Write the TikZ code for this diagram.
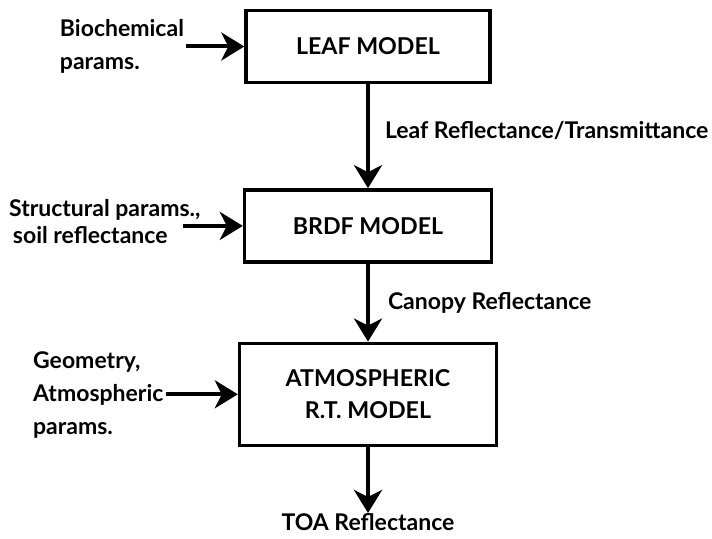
\documentclass[tikz,border=0pt]{standalone}
\usepackage{fontspec}
\setmainfont{Lato}
\usetikzlibrary{arrows.meta, positioning}

\begin{document}
\begin{tikzpicture}[
            x=0.5pt, y=-0.5pt,
            node distance=52pt and 30pt,
            model/.style ={rectangle, draw=black, line width=1.7pt,
                           minimum width=122pt, minimum height=36pt, align=center,
                           font=\fontsize{11.6}{16}\selectfont\bfseries},
            input/.style ={align=left, inner sep=0pt, font=\fontsize{11.5}{16.5}\selectfont\bfseries},
            label/.style ={inner sep=0pt, font=\fontsize{11.5}{16}\selectfont\bfseries},
            arrow/.style ={-{Stealth[length=11.5pt, width=14pt, inset=3.5pt]}, line width=2pt}
        ]
        \useasboundingbox (0,0) rectangle (712,539);
        \node[model] (leaf) at (368,46.5) {LEAF MODEL};
        \node[model, minimum width=123.5pt, below=of leaf] (brdf) {BRDF MODEL};
        \node[model, minimum width=128.5pt, minimum height=51pt,
              below=39pt of brdf] (atmos) {ATMOSPHERIC\\R.T. MODEL};
        \node[label, below=33pt of atmos] (toa) {TOA Reflectance};

        \node[input, left=30pt of leaf]   (bio)    {Biochemical\\params.};
        \node[input, left=21pt of brdf, yshift=2pt] (struct) {Structural params.,\\[-3pt]\,soil reflectance};
        \node[input, left=37pt of atmos, yshift=-0.5pt] (geom) {Geometry,\\Atmospheric\\params.};
        \coordinate[left=30pt of brdf] (structend);

        \draw[arrow] (leaf)  -- node[label, right=7.5pt, pos=0.45]{Leaf Reflectance/Transmittance} (brdf);
        \draw[arrow] (brdf)  -- node[label, right=9pt]{Canopy Reflectance} (atmos);
        \draw[arrow] (atmos) -- (toa);
        \draw[arrow] ([xshift=1pt]bio.east)  -- (leaf);
        \draw[arrow] (structend)             -- (brdf);
        \draw[arrow] ([xshift=1pt]geom.east |- atmos) -- (atmos);
        \end{tikzpicture}
\end{document}
